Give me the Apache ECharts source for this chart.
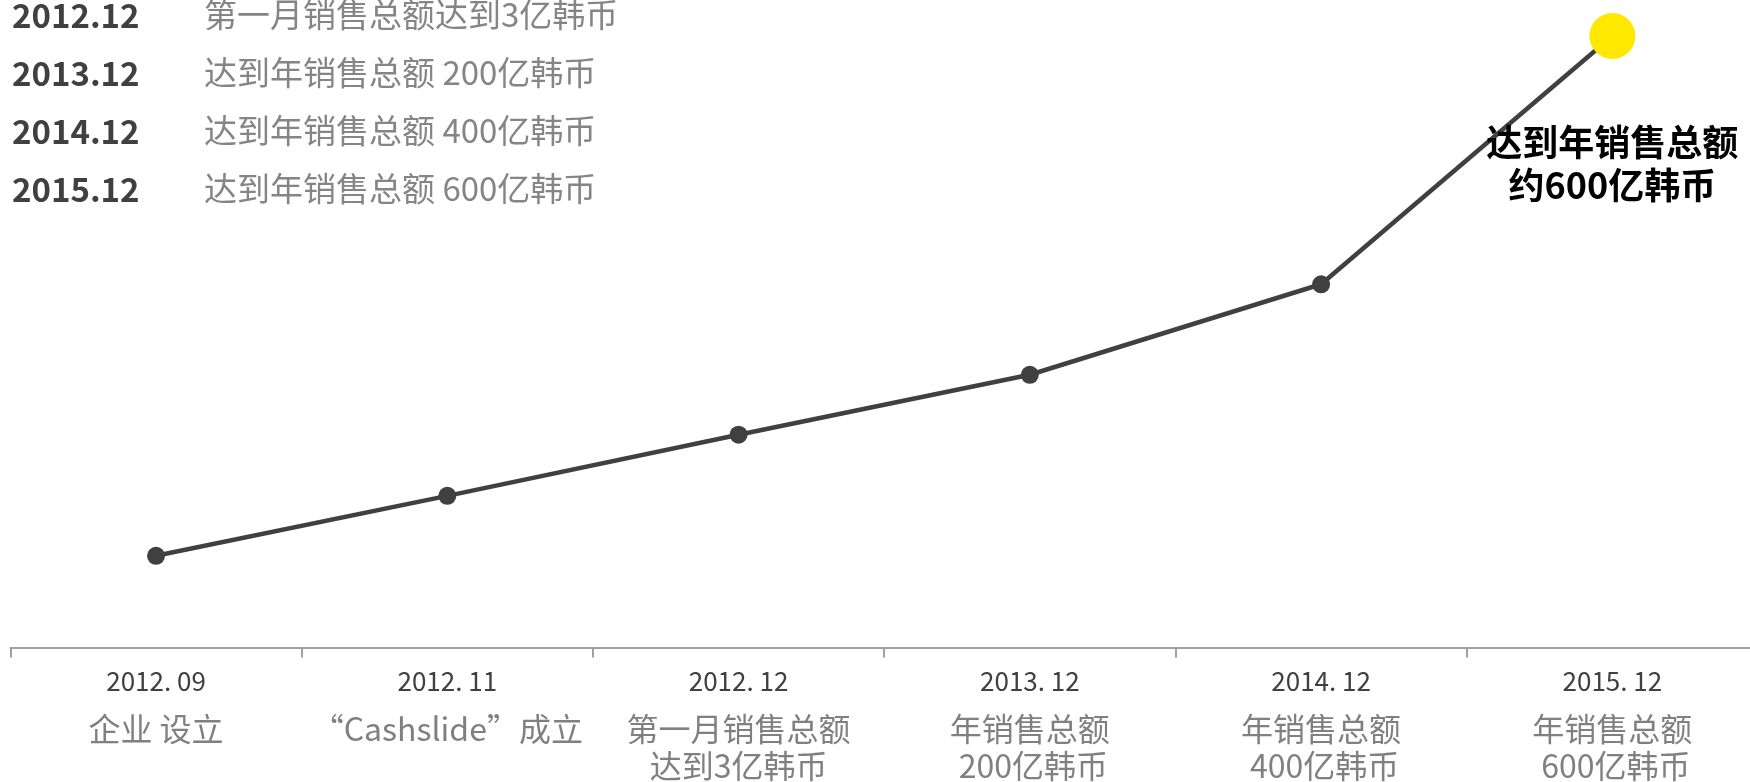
<!DOCTYPE html>
<html>
<head>
<meta charset="utf-8">
<script src="https://cdn.jsdelivr.net/npm/echarts@6/dist/echarts.min.js"></script>
<style>
html,body{margin:0;padding:0;background:#fff;overflow:hidden;width:1750px;height:782px;}
#chart{width:1760px;height:782px;}
</style>
</head>
<body>
<div id="chart"></div>
<script>
// ---- data ----
var categoryDates = ['2012. 09', '2012. 11', '2012. 12', '2013. 12', '2014. 12', '2015. 12'];
var categoryNotes = ['企业 设立', '“Cashslide”成立', '第一月销售总额\n达到3亿韩币', '年销售总额\n 200亿韩币', '年销售总额\n 400亿韩币', '年销售总额\n 600亿韩币'];
var growthValues = [15, 24.8, 34.8, 44.6, 59.4, 100];
var highlightLabel = '达到年销售总额\n约600亿韩币';
var milestoneDates = ['2012.12', '2013.12', '2014.12', '2015.12'];
var milestoneTexts = ['第一月销售总额达到3亿韩币', '达到年销售总额 200亿韩币', '达到年销售总额 400亿韩币', '达到年销售总额 600亿韩币'];

var FONT = '"Noto Sans CJK SC", "Noto Sans", sans-serif';

var chart = echarts.init(document.getElementById('chart'));

var seriesData = growthValues.map(function (v, i) {
  if (i === growthValues.length - 1) {
    return {
      value: v,
      symbolSize: 46,
      itemStyle: { color: '#FFE800' },
      label: {
        show: true,
        position: 'bottom',
        distance: 62,
        formatter: highlightLabel,
        fontFamily: FONT,
        fontSize: 36,
        fontWeight: 'bold',
        color: '#000',
        lineHeight: 43,
        align: 'center'
      }
    };
  }
  return v;
});

var graphics = [];
milestoneDates.forEach(function (d, i) {
  var cy = 18 + i * 58;
  graphics.push({
    type: 'text', left: 12, top: cy - 19,
    style: { text: d, font: 'bold 33px ' + FONT, fill: '#404040' }
  });
  graphics.push({
    type: 'text', left: 204, top: cy - 20,
    style: { text: milestoneTexts[i], font: '33px ' + FONT, fill: '#858585' }
  });
});

chart.setOption({
  animation: false,
  backgroundColor: '#fff',
  grid: { left: 10.4, right: 2, top: 36, bottom: 133, containLabel: false },
  xAxis: {
    type: 'category',
    data: categoryDates,
    boundaryGap: true,
    axisLine: { show: true, lineStyle: { color: '#a0a0a0', width: 2 } },
    axisTick: { show: true, length: 10, lineStyle: { color: '#a0a0a0', width: 2 } },
    axisLabel: {
      interval: 0,
      margin: 4,
      formatter: function (val, idx) {
        var lines = categoryNotes[idx].split('\n').map(function (l) { return '{t|' + l + '}'; });
        return '{d|' + val + '}\n' + lines.join('\n');
      },
      rich: {
        d: { fontFamily: FONT, fontSize: 26, color: '#404040', lineHeight: 59 },
        t: { fontFamily: FONT, fontSize: 32, color: '#808080', lineHeight: 37 }
      }
    }
  },
  yAxis: {
    type: 'value', min: 0, max: 100, show: false,
    splitLine: { show: false }
  },
  series: [{
    type: 'line',
    data: seriesData,
    symbol: 'circle',
    symbolSize: 18,
    clip: false,
    lineStyle: { color: '#404040', width: 4.5 },
    itemStyle: { color: '#404040' },
    z: 3
  }],
  graphic: graphics
});
</script>
</body>
</html>
